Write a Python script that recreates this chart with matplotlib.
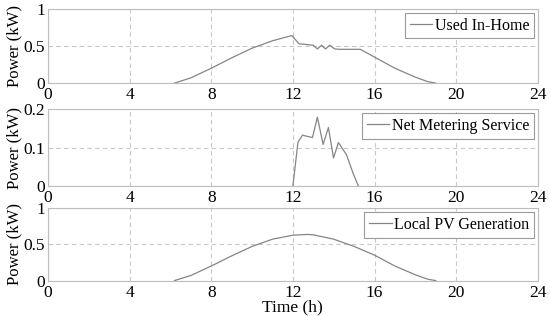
import numpy as np
import matplotlib
matplotlib.use('Agg')
import matplotlib.pyplot as plt

plt.rcParams['font.family'] = ['Liberation Serif', 'DejaVu Serif']
plt.rcParams['font.size'] = 12

# PV generation (kW) over the day
t_pv = [6.2, 7, 8, 9, 10, 11, 12, 12.7, 13, 14, 15, 16, 17, 18, 18.6, 19]
p_pv = [0, 0.07, 0.2, 0.34, 0.47, 0.57, 0.625, 0.635, 0.63, 0.57, 0.47, 0.35, 0.2, 0.08, 0.02, 0]

# used in-home (kW)
t_home = [6.2, 7, 8, 9, 10, 11, 11.95, 12.3, 13.0, 13.2, 13.4, 13.6, 13.8, 14.05, 14.3, 15.3,
          16, 17, 18, 18.6, 19]
p_home = [0, 0.07, 0.2, 0.34, 0.47, 0.57, 0.64, 0.53, 0.51, 0.46, 0.51, 0.46, 0.51, 0.46, 0.455, 0.455,
          0.35, 0.2, 0.08, 0.02, 0]

# net metering service (kW)
t_net = [12.0, 12.25, 12.47, 12.96, 13.2, 13.48, 13.74, 13.99, 14.23, 14.62, 14.95, 15.21]
p_net = [0, 0.114, 0.132, 0.126, 0.179, 0.108, 0.152, 0.073, 0.113, 0.082, 0.033, 0]

xticks = [0, 4, 8, 12, 16, 20, 24]

panels = [
    (t_home, p_home, 'Used In-Home', 1, [0, 0.5, 1], ['0', '0.5', '1']),
    (t_net, p_net, 'Net Metering Service', 0.2, [0, 0.1, 0.2], ['0', '0.1', '0.2']),
    (t_pv, p_pv, 'Local PV Generation', 1, [0, 0.5, 1], ['0', '0.5', '1']),
]

fig = plt.figure(figsize=(5.5, 3.16), dpi=100)
boxes = [(0.087, 0.737, 0.891, 0.235),
         (0.087, 0.411, 0.891, 0.244),
         (0.087, 0.112, 0.891, 0.230)]

for (t, p, name, ymax, yt, ytl), box in zip(panels, boxes):
    ax = fig.add_axes(box)
    ax.plot(t, p, color='#858585', lw=0.9, label=name)
    ax.set_xlim(0, 24)
    ax.set_ylim(0, ymax)
    ax.set_xticks(xticks)
    ax.set_yticks(yt)
    ax.set_yticklabels(ytl)
    ax.grid(True, ls=(0, (4, 3)), color='#c8c8c8', lw=0.8)
    ax.tick_params(axis='x', length=0, pad=3, labelsize=12.5)
    ax.tick_params(axis='y', length=0, pad=2, labelsize=12.5)
    for s in ax.spines.values():
        s.set_color('#bdbdbd')
    ax.set_ylabel('Power (kW)', fontsize=12, labelpad=1)
    leg = ax.legend(loc='upper right', handlelength=1.4, handletextpad=0.15,
                    borderpad=0.3, borderaxespad=0.25, fancybox=False,
                    fontsize=11.5, framealpha=1)
    leg.get_frame().set_edgecolor('#9a9a9a')
    leg.get_frame().set_linewidth(0.8)

ax.set_xlabel('Time (h)', fontsize=12.5, labelpad=-1)

fig.savefig('out.png', dpi=100)
